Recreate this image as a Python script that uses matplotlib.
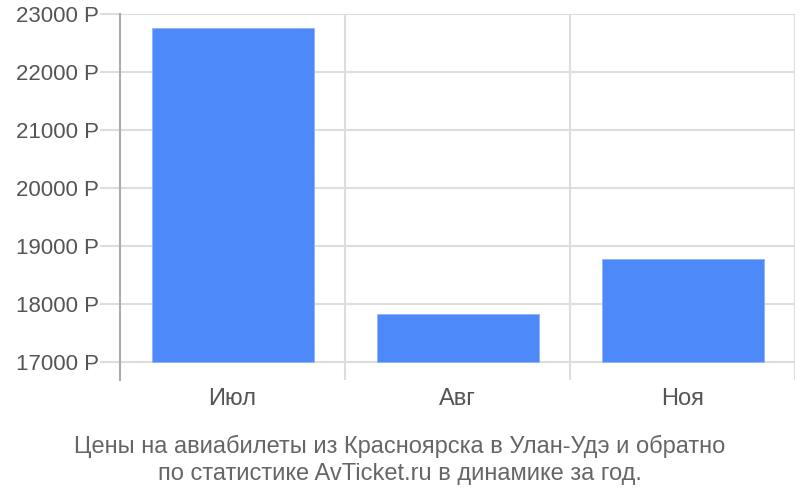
import matplotlib
matplotlib.use("Agg")
import matplotlib.pyplot as plt

categories = ["Июл", "Авг", "Ноя"]
prices = [22760, 17820, 18770]
yticks = [17000, 18000, 19000, 20000, 21000, 22000, 23000]
ytick_labels = [f"{v} Р" for v in yticks]
title_lines = ["Цены на авиабилеты из Красноярска в Улан-Удэ и обратно",
               "по статистике AvTicket.ru в динамике за год."]

plt.rcParams['font.family'] = ['Liberation Sans', 'DejaVu Sans']

fig = plt.figure(figsize=(8, 5), dpi=100)
ax = fig.add_axes([120/800, 1-380/500, 675/800, 366/500])

base = 17000
x = list(range(len(categories)))
ax.bar(x, [p - base for p in prices], bottom=base, width=0.72, color="#4d89f9",
       zorder=3, edgecolor="#8fb4fb", linewidth=0.6)

ax.set_xlim(-0.5, len(categories)-0.5)
bottom = 17000 - (18/348)*6000
ax.set_ylim(bottom, 23000)

ax.set_yticks(yticks)
ax.set_yticklabels(ytick_labels)
for v in yticks:
    ax.axhline(v, color="#dddddd", lw=1.5, zorder=1)
for b in [0.5, 1.5, 2.5]:
    ax.axvline(b, color="#dddddd", lw=1.5, zorder=1)

ax.set_xticks(x)
ax.set_xticklabels(categories)
ax.tick_params(axis='x', length=0, pad=6, labelsize=17, labelcolor="#555555")
ax.tick_params(axis='y', length=14.4, width=1.5, color="#dddddd", pad=1, labelsize=16, labelcolor="#555555")

for s in ["top", "right", "bottom"]:
    ax.spines[s].set_visible(False)
ax.spines["left"].set_color("#aaaaaa")
ax.spines["left"].set_linewidth(1.5)

fig.text(0.5, 1-446/500, title_lines[0], ha="center", va="center", fontsize=17, color="#666666")
fig.text(0.5, 1-474/500, title_lines[1], ha="center", va="center", fontsize=17, color="#666666")

fig.savefig("out.png", dpi=100)
